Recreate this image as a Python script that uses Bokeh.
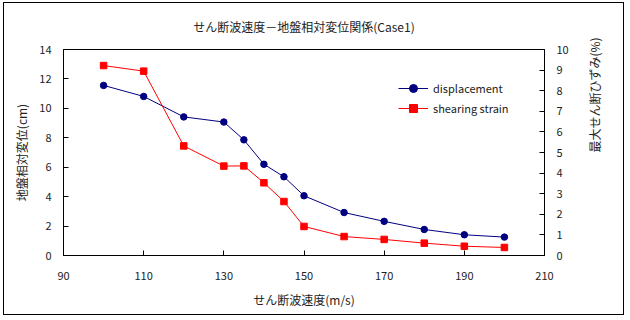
import math
from bokeh.plotting import figure
from bokeh.models import Range1d, LinearAxis, Legend, LegendItem, FixedTicker
from bokeh.embed import file_html
from bokeh.resources import INLINE

velocity = [100, 110, 120, 130, 135, 140, 145, 150, 160, 170, 180, 190, 200]
displacement = [11.56, 10.81, 9.42, 9.07, 7.86, 6.20, 5.35, 4.06, 2.92, 2.32, 1.77, 1.41, 1.25]
strain = [9.22, 8.95, 5.32, 4.34, 4.35, 3.53, 2.62, 1.41, 0.92, 0.78, 0.60, 0.45, 0.39]
x_ticks = [90, 110, 130, 150, 170, 190, 210]
left_ticks = [0, 2, 4, 6, 8, 10, 12, 14]
right_ticks = [0, 1, 2, 3, 4, 5, 6, 7, 8, 9, 10]

FONT = "Noto Sans CJK JP"

p = figure(width=621, height=313, output_backend="svg", toolbar_location=None,
           x_range=Range1d(90, 210), y_range=Range1d(0, 14),
           title="せん断波速度－地盤相対変位関係(Case1)",
           min_border_left=59, min_border_right=81, min_border_top=46, min_border_bottom=61)
p.styles = {"border": "1px solid #000", "margin-left": "3px", "margin-top": "2px"}
p.extra_y_ranges = {"strain": Range1d(0, 10)}

p.title.align = "center"
p.title.vertical_align = "top"
p.title.text_font = FONT
p.title.text_font_size = "12px"
p.title.text_font_style = "normal"
p.title.text_color = "#222"
p.title.standoff = 26

p.grid.visible = False
p.outline_line_color = "black"
p.outline_line_width = 1

raxis = LinearAxis(y_range_name="strain", axis_label="最大せん断ひずみ(%)")
p.add_layout(raxis, "right")

p.xaxis.axis_label = "せん断波速度(m/s)"
p.yaxis[0].axis_label = "地盤相対変位(cm)"
p.xaxis.ticker = FixedTicker(ticks=x_ticks)
p.yaxis[0].ticker = FixedTicker(ticks=left_ticks)
raxis.ticker = FixedTicker(ticks=right_ticks)

for ax in [p.xaxis[0], p.yaxis[0], raxis]:
    ax.major_tick_in = 5
    ax.major_tick_out = 0
    ax.minor_tick_line_color = None
    ax.axis_line_color = "black"
    ax.major_tick_line_color = "black"
    ax.major_label_text_font = FONT
    ax.major_label_text_font_size = "11px"
    ax.major_label_text_color = "#222"
    ax.axis_label_text_font = FONT
    ax.axis_label_text_font_size = "12px"
    ax.axis_label_text_font_style = "normal"
    ax.axis_label_text_color = "#222"

p.xaxis.major_label_standoff = 16
p.xaxis.axis_label_standoff = 8
p.yaxis[0].major_label_standoff = 12
p.yaxis[0].axis_label_standoff = 6
raxis.major_label_standoff = 12
raxis.axis_label_standoff = 23
raxis.axis_label_orientation = math.pi / 2

l1 = p.line(velocity, displacement, line_color="#000080", line_width=1)
c1 = p.scatter(velocity, displacement, marker="circle", size=6.5, fill_color="#000080", line_color="#000080")
l2 = p.line(velocity, strain, line_color="#FF0000", line_width=1, y_range_name="strain")
c2 = p.scatter(velocity, strain, marker="square", size=6.5, fill_color="#FF0000", line_color="#FF0000", y_range_name="strain")

legend = Legend(items=[LegendItem(label="displacement", renderers=[l1, c1]),
                       LegendItem(label="shearing strain", renderers=[l2, c2])],
                location=(335, 137), padding=0, margin=0, spacing=0,
                border_line_color=None, background_fill_alpha=0,
                glyph_width=30, glyph_height=20, label_height=20, label_standoff=5,
                label_text_font=FONT, label_text_font_size="11px", label_text_color="#222")
p.add_layout(legend)

open("out.html", "w").write(file_html(p, INLINE))
